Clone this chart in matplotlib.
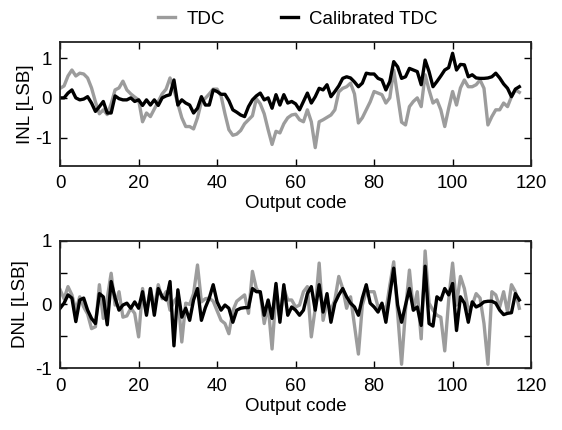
import numpy as np
import matplotlib
matplotlib.use('Agg')
import matplotlib.pyplot as plt

plt.rcParams['font.family'] = ['Liberation Sans', 'DejaVu Sans']

# INL (top) ------------------------------------------------------------
inl_tdc = [0.24, 0.3, 0.55, 0.7, 0.55, 0.62, 0.6, 0.5, 0.25, -0.1,
           -0.4, -0.3, -0.42, -0.15, 0.2, 0.25, 0.42, 0.2, 0.1, 0.02,
           -0.05, -0.6, -0.38, -0.47, -0.28, -0.09, 0.1, 0.22, 0.5, 0.2,
           -0.15, -0.5, -0.72, -0.72, -0.78, -0.5, -0.1, -0.01, 0.1, 0.22,
           0.22, 0.05, -0.4, -0.8, -0.94, -0.91, -0.82, -0.65, -0.55, -0.45,
           -0.02, -0.15, -0.4, -0.8, -1.17, -0.84, -0.88, -0.65, -0.5, -0.43,
           -0.41, -0.55, -0.6, -0.3, -0.6, -1.25, -0.6, -0.55, -0.49, -0.43,
           -0.3, 0.15, 0.24, 0.28, 0.37, 0.1, -0.63, -0.5, -0.3, -0.1,
           0.16, 0.12, 0.08, -0.13, 0.0, 0.7, 0.05, -0.61, -0.68, -0.22,
           -0.09, 0.0, -0.22, 0.58, 0.2, -0.13, -0.05, -0.3, -0.72, -0.26,
           0.16, -0.18, 0.25, 0.45, 0.28, 0.28, 0.33, 0.45, 0.24, -0.68,
           -0.47, -0.3, -0.3, -0.13, -0.22, 0.03, 0.2, 0.14]

inl_cal = [0.0, 0.0, 0.12, 0.2, 0.0, -0.05, -0.03, 0.03, -0.13, -0.34,
           -0.22, -0.09, -0.38, -0.38, 0.05, -0.02, -0.05, -0.05, 0.0, -0.09,
           -0.05, -0.19, -0.05, -0.18, -0.05, -0.19, 0.0, 0.05, 0.08, 0.45,
           -0.18, -0.05, -0.13, -0.18, -0.38, -0.26, 0.03, -0.18, -0.18, 0.2,
           0.16, 0.09, 0.09, -0.07, -0.3, -0.36, -0.43, -0.47, -0.22, -0.05,
           0.05, 0.12, -0.05, 0.0, -0.26, 0.08, -0.18, 0.08, -0.13, -0.09,
           -0.15, -0.3, -0.09, 0.12, -0.13, 0.03, 0.24, 0.2, 0.33, 0.03,
           0.16, 0.3, 0.49, 0.53, 0.5, 0.4, 0.28, 0.37, 0.62, 0.6,
           0.6, 0.49, 0.45, 0.2, 0.41, 0.91, 0.78, 0.49, 0.53, 0.74,
           0.7, 0.66, 0.33, 0.95, 0.66, 0.28, 0.41, 0.55, 0.7, 0.76,
           1.12, 0.7, 0.84, 0.83, 0.53, 0.58, 0.5, 0.49, 0.49, 0.5,
           0.53, 0.62, 0.5, 0.35, 0.24, 0.03, 0.22, 0.28]

# DNL (bottom) ---------------------------------------------------------
dnl_tdc = [0.23, 0.09, 0.28, 0.15, -0.09, 0.12, -0.04, -0.15, -0.38, -0.35,
           0.31, -0.22, 0.1, 0.49, -0.01, 0.2, -0.2, -0.18, -0.06, -0.14,
           -0.51, 0.25, -0.14, 0.25, -0.06, 0.31, 0.09, 0.2, -0.09, 0.05,
           0.12, -0.59, 0.02, 0.0, 0.17, 0.62, 0.04, 0.09, 0.1, 0.05,
           -0.1, -0.25, -0.3, -0.46, -0.1, 0.05, 0.1, 0.15, -0.14, 0.52,
           0.25, 0.17, -0.3, -0.01, -0.7, 0.17, -0.22, 0.25, 0.07, 0.07,
           -0.04, -0.01, 0.2, 0.28, -0.51, -0.06, 0.65, -0.25, 0.04, -0.09,
           0.07, 0.44, 0.25, -0.06, 0.12, -0.33, -0.78, -0.01, 0.2, 0.2,
           0.2, -0.04, 0.0, -0.1, 0.3, 0.67, -0.14, -0.94, -0.09, 0.54,
           -0.09, 0.2, -0.54, 0.84, 0.02, -0.09, -0.17, -0.2, -0.73, 0.07,
           0.65, -0.01, 0.44, 0.25, -0.09, -0.01, 0.17, 0.1, -0.3, -0.94,
           0.2, 0.15, -0.04, 0.2, -0.12, 0.31, 0.2, -0.06]

dnl_cal = [-0.06, 0.02, 0.15, 0.1, -0.27, 0.07, 0.1, -0.09, -0.22, -0.3,
           0.17, 0.12, -0.32, 0.36, 0.1, -0.09, -0.01, 0.02, -0.06, 0.04,
           -0.06, 0.2, -0.17, 0.25, -0.17, 0.25, 0.12, 0.07, 0.36, -0.65,
           0.23, -0.2, -0.06, -0.25, 0.07, 0.25, -0.25, -0.05, 0.1, 0.31,
           0.04, -0.09, -0.01, -0.06, -0.28, -0.09, -0.06, -0.05, -0.05, 0.25,
           0.2, 0.2, -0.17, 0.07, -0.22, 0.33, -0.28, 0.31, -0.17, -0.04,
           -0.09, -0.17, -0.09, 0.17, 0.28, -0.09, 0.31, -0.12, 0.17, -0.28,
           0.02, 0.15, 0.25, 0.12, 0.02, -0.04, -0.17, 0.1, 0.31, 0.02,
           -0.04, -0.12, 0.02, -0.28, 0.15, 0.57, -0.01, -0.28, -0.01, 0.25,
           -0.09, -0.04, -0.33, 0.6, -0.3, -0.34, 0.12, 0.07, 0.25, 0.15,
           0.33, -0.41, 0.12, 0.02, -0.28, 0.04, -0.04, -0.01, 0.04, 0.05,
           0.05, 0.02, -0.09, -0.16, -0.14, -0.13, 0.17, 0.07]

code = np.arange(len(inl_tdc))

gray = '#9c9c9c'
lw = 2.4
fs = 13.5

fig = plt.figure(figsize=(5.62, 4.3), dpi=100)
ax1 = fig.add_axes([0.107, 0.615, 0.838, 0.287])
ax2 = fig.add_axes([0.107, 0.144, 0.838, 0.296])

ax1.plot(code, inl_tdc, color=gray, lw=lw, label='TDC')
ax1.plot(code, inl_cal, color='black', lw=lw, label='Calibrated TDC')
ax2.plot(code, dnl_tdc, color=gray, lw=lw)
ax2.plot(code, dnl_cal, color='black', lw=lw)

ax1.set_ylim(-1.7, 1.4)
ax1.set_yticks([-1, 0, 1])
ax1.set_yticklabels(['-1', '0', '1'])
ax1.set_ylabel('INL [LSB]', fontsize=fs, labelpad=1)

ax2.set_ylim(-1, 1)
ax2.set_yticks([-1, -0.5, 0, 0.5, 1])
ax2.set_yticklabels(['-1', '', '0', '', '1'])
ax2.set_ylabel('DNL [LSB]', fontsize=fs, labelpad=4)

for ax in (ax1, ax2):
    ax.set_xlim(0, 120)
    ax.set_xticks([0, 20, 40, 60, 80, 100, 120])
    ax.set_xlabel('Output code', fontsize=fs, labelpad=2)
    ax.tick_params(direction='in', top=True, right=True, length=5,
                   width=1, labelsize=fs)
    ax.tick_params(axis='x', pad=7)
    ax.tick_params(axis='y', pad=6)
    for s in ax.spines.values():
        s.set_linewidth(1.3)
        s.set_color('#222222')

fig.legend(handles=ax1.get_lines(), loc='upper center', ncol=2,
           bbox_to_anchor=(0.53, 1.015), frameon=False, fontsize=fs,
           handlelength=0.9, columnspacing=3.0, handletextpad=0.6)

fig.savefig('out.png', dpi=100)
